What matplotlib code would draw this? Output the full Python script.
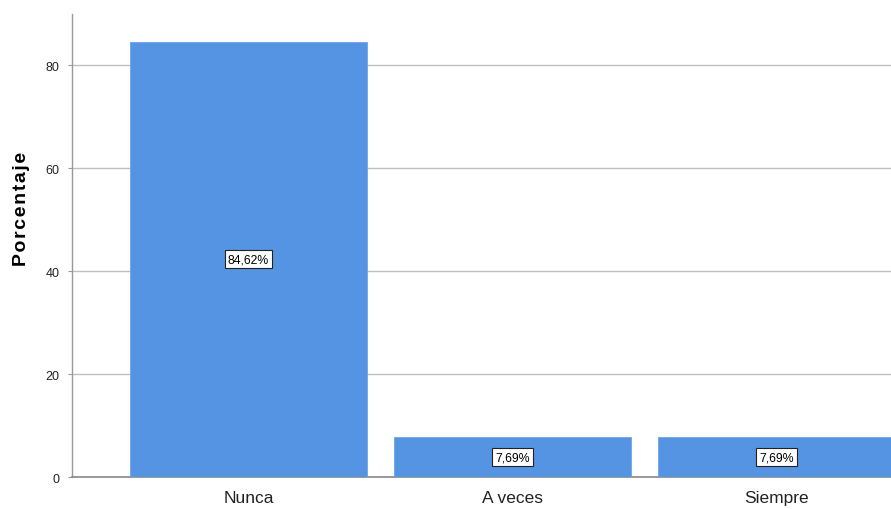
import matplotlib
matplotlib.use("Agg")
import matplotlib.pyplot as plt

plt.rcParams['font.family'] = ['Liberation Sans', 'DejaVu Sans']

categorias = ["Nunca", "A veces", "Siempre"]
porcentajes = [84.62, 7.69, 7.69]
etiquetas = ["84,62%", "7,69%", "7,69%"]

fig = plt.figure(figsize=(8.91, 5.10), dpi=100)
ax = fig.add_axes([0.0808, 0.0627, 0.9192, 0.9079])

x = list(range(len(categorias)))
ax.bar(x, porcentajes, width=0.9, color="#5594e2", edgecolor="#6ea4e8", linewidth=0.6, zorder=3)

for xi, v, t in zip(x, porcentajes, etiquetas):
    ax.text(xi, v / 2, t, ha="center", va="center", fontsize=8.8, color="black", zorder=4,
            bbox=dict(boxstyle="square,pad=0.25", facecolor="white", edgecolor="#222222", linewidth=0.8))

ax.set_xlim(-0.669, 2.434)
ax.set_ylim(0, 90)
ax.set_yticks([0, 20, 40, 60, 80])
ax.set_xticks(x)
ax.set_xticklabels(categorias, fontsize=12.5, color="#222222")
ax.tick_params(axis="x", length=0, pad=9)
ax.tick_params(axis="y", length=3, width=0.8, color="#999999", labelsize=9, labelcolor="#222222", pad=6)

ax.yaxis.grid(True, color="#c0c0c0", linewidth=1.0, zorder=0)
ax.set_axisbelow(True)
for s in ["top", "right"]:
    ax.spines[s].set_visible(False)
ax.spines["left"].set_color("#999999")
ax.spines["bottom"].set_color("#888888")
ax.spines["left"].set_linewidth(1.0)
ax.spines["bottom"].set_linewidth(1.2)

# etiqueta del eje con letras algo espaciadas, como en el original
ax.set_ylabel("\u200a".join("Porcentaje"), fontsize=14, fontweight="bold")
ax.yaxis.set_label_coords(-0.0513, 0.581)

fig.savefig("out.png", dpi=100)
